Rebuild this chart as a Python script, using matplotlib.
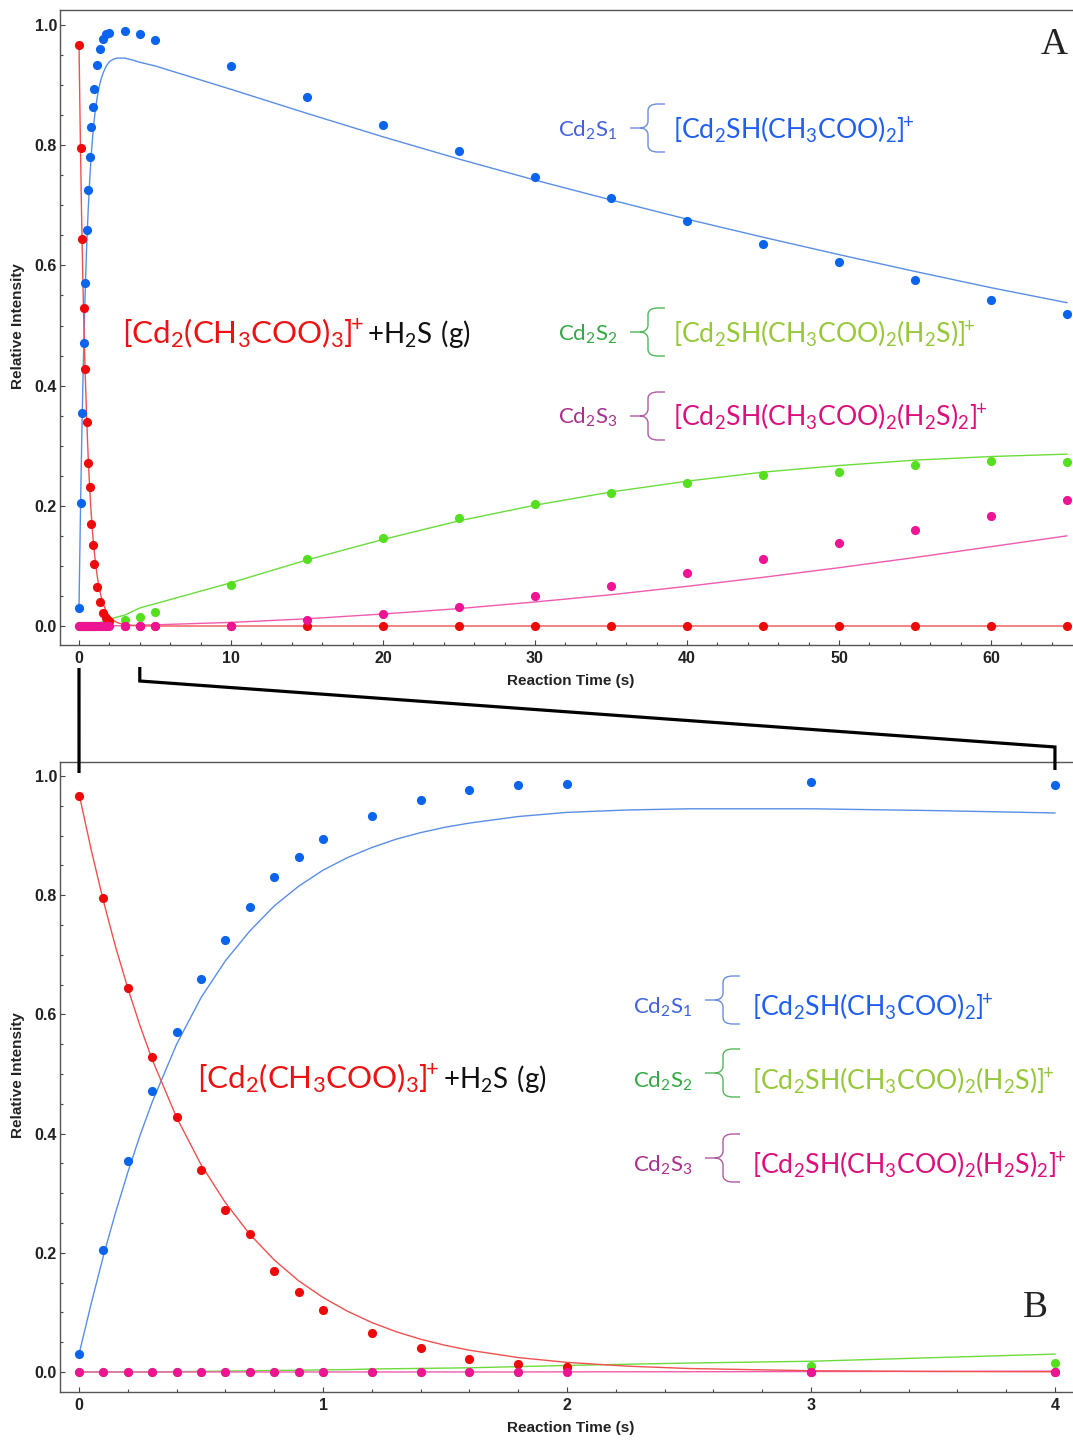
import matplotlib
matplotlib.use("Agg")
import matplotlib.pyplot as plt
import matplotlib.transforms as mtransforms
from matplotlib.path import Path
from matplotlib.patches import PathPatch
from matplotlib.lines import Line2D
from matplotlib.ticker import MultipleLocator, FormatStrFormatter

# ---------------- measured intensities ----------------
t_fast = [0, 0.1, 0.2, 0.3, 0.4, 0.5, 0.6, 0.7, 0.8, 0.9, 1.0, 1.2, 1.4, 1.6, 1.8, 2.0, 3, 4]
t_slow = [5, 10, 15, 20, 25, 30, 35, 40, 45, 50, 55, 60, 65]

reactant_fast = [0.966, 0.795, 0.644, 0.529, 0.428, 0.339, 0.272, 0.231, 0.169, 0.134,
                 0.104, 0.065, 0.040, 0.022, 0.013, 0.008, 0.0, 0.0]
reactant_slow = [0.0] * 13

s1_fast = [0.030, 0.205, 0.354, 0.471, 0.570, 0.659, 0.725, 0.780, 0.830, 0.864,
           0.894, 0.933, 0.960, 0.977, 0.985, 0.987, 0.990, 0.985]
s1_slow = [0.975, 0.932, 0.880, 0.834, 0.790, 0.747, 0.712, 0.674, 0.636, 0.606,
           0.576, 0.542, 0.519]

s2_fast = [0.0] * 15 + [0.008, 0.010, 0.015]
s2_slow = [0.023, 0.068, 0.111, 0.146, 0.180, 0.203, 0.221, 0.238, 0.251, 0.256,
           0.268, 0.275, 0.273]

s3_fast = [0.0] * 18
s3_slow = [0.0, 0.0, 0.010, 0.020, 0.032, 0.050, 0.067, 0.088, 0.111, 0.138,
           0.160, 0.183, 0.210]

# ---------------- kinetic model curves ----------------
fit_t_fast = [0, 0.05, 0.1, 0.15, 0.2, 0.25, 0.3, 0.4, 0.5, 0.6, 0.7, 0.8, 0.9, 1.0,
              1.1, 1.2, 1.3, 1.4, 1.5, 1.6, 1.8, 2.0, 2.25, 2.5, 3.0, 3.5, 4.0]
fit_t_slow = [5, 10, 15, 20, 25, 30, 35, 40, 45, 50, 55, 60, 65]

reactant_fit_fast = [0.970, 0.876, 0.790, 0.713, 0.644, 0.581, 0.524, 0.427, 0.348, 0.284,
                     0.231, 0.188, 0.153, 0.125, 0.102, 0.083, 0.0675, 0.055, 0.0448,
                     0.0365, 0.0242, 0.0161, 0.0097, 0.0058, 0.0021, 0.0008, 0.0003]
reactant_fit_slow = [0.0] * 13

s1_fit_fast = [0.030, 0.115, 0.195, 0.268, 0.335, 0.397, 0.453, 0.550, 0.628, 0.690,
               0.740, 0.782, 0.815, 0.842, 0.863, 0.880, 0.894, 0.905, 0.914, 0.921,
               0.932, 0.939, 0.943, 0.945, 0.945, 0.942, 0.938]
s1_fit_slow = [0.932, 0.893, 0.853, 0.814, 0.777, 0.742, 0.709, 0.677, 0.647, 0.618,
               0.590, 0.563, 0.538]

s2_fit_fast = [0.0] * 7 + [0.0005, 0.001, 0.0015, 0.002, 0.0025, 0.003, 0.0035,
                           0.004, 0.005, 0.0055, 0.006, 0.0065, 0.007, 0.009, 0.011,
                           0.013, 0.015, 0.018, 0.024, 0.030]
s2_fit_slow = [0.037, 0.072, 0.110, 0.144, 0.175, 0.201, 0.223, 0.241, 0.256, 0.267,
               0.276, 0.282, 0.286]

s3_fit_fast = [0.0] * 21 + [0.0002, 0.0003, 0.0004, 0.0007, 0.001, 0.0014]
s3_fit_slow = [0.002, 0.006, 0.012, 0.020, 0.029, 0.040, 0.052, 0.066, 0.081, 0.097,
               0.114, 0.132, 0.150]

# ---------------- styling ----------------
W, H = 1073, 1441
DOT = {"reactant": "#ee0a0a", "s1": "#0a64ee", "s2": "#55e01e", "s3": "#ee1494"}
FIT = {"reactant": "#f05050", "s1": "#5a8ee6", "s2": "#6cdc3c", "s3": "#f05aae"}

fig = plt.figure(figsize=(W / 100, H / 100), dpi=100)
fig.patch.set_facecolor("white")


def px_ax(left, top, right, bottom):
    return [left / W, 1 - bottom / H, (right - left) / W, (bottom - top) / H]


axA = fig.add_axes(px_ax(60, 10, 1073, 645))
axB = fig.add_axes(px_ax(60, 762, 1073, 1392))

panels = [
    (axA, t_fast + t_slow, fit_t_fast + fit_t_slow,
     {"reactant": reactant_fast + reactant_slow, "s1": s1_fast + s1_slow,
      "s2": s2_fast + s2_slow, "s3": s3_fast + s3_slow},
     {"reactant": reactant_fit_fast + reactant_fit_slow, "s1": s1_fit_fast + s1_fit_slow,
      "s2": s2_fit_fast + s2_fit_slow, "s3": s3_fit_fast + s3_fit_slow}),
    (axB, t_fast, fit_t_fast,
     {"reactant": reactant_fast, "s1": s1_fast, "s2": s2_fast, "s3": s3_fast},
     {"reactant": reactant_fit_fast, "s1": s1_fit_fast, "s2": s2_fit_fast,
      "s3": s3_fit_fast}),
]

for ax, tt, tf, pts, fits in panels:
    for key in ["s2", "s3", "s1", "reactant"]:
        ax.plot(tf, fits[key], color=FIT[key], lw=1.0, zorder=2)
    for key in ["s1", "s2", "reactant", "s3"]:
        ax.plot(tt, pts[key], "o", color=DOT[key], ms=6.6, mec="none", zorder=3,
                clip_on=False)

axA.set_xlim(-1.25, 65.4)
axA.set_ylim(-0.0316, 1.025)
axA.xaxis.set_major_locator(MultipleLocator(10))
axA.xaxis.set_minor_locator(MultipleLocator(2))

axB.set_xlim(-0.078, 4.074)
axB.set_ylim(-0.0336, 1.0235)
axB.xaxis.set_major_locator(MultipleLocator(1))
axB.xaxis.set_minor_locator(MultipleLocator(0.2))

for ax in (axA, axB):
    ax.yaxis.set_major_locator(MultipleLocator(0.2))
    ax.yaxis.set_minor_locator(MultipleLocator(0.05))
    ax.yaxis.set_major_formatter(FormatStrFormatter("%.1f"))
    ax.spines["right"].set_visible(False)
    for s in ("left", "bottom", "top"):
        ax.spines[s].set_color("#555555")
        ax.spines[s].set_linewidth(1.0)
    ax.tick_params(which="both", direction="in", colors="#444444", width=0.8,
                   labelcolor="#222222", labelsize=11.5)
    ax.tick_params(which="major", length=3.8)
    ax.tick_params(which="minor", length=2.2)
    ax.tick_params(axis="x", which="major", pad=4.5)
    ax.tick_params(axis="y", which="major", pad=2.2)
    for lab in ax.get_xticklabels() + ax.get_yticklabels():
        lab.set_fontfamily("Liberation Sans")
        lab.set_fontweight("bold")
    ax.set_xlabel("Reaction Time (s)", family="Liberation Sans", weight="bold",
                  size=11, color="#222222")
    ax.set_ylabel("Relative Intensity", family="Liberation Sans", weight="bold",
                  size=11, color="#222222")
    ax.xaxis.set_label_coords(0.504, -0.046)
    ax.yaxis.set_label_coords(-0.035, 0.503)


def ftext(x, y, s, **kw):
    fig.text(x / W, 1 - y / H, s, **kw)


def brace(x_cusp, y_mid, color, half=24):
    # dash plus an opening curly brace, sized in pixels
    h = half
    verts = [(-10, 0), (0, 0),
             (0, 0), (5, 0), (8, 3), (8, 7),
             (8, h - 7),
             (8, h - 2), (12, h), (18, h),
             (25, h),
             (0, 0), (5, 0), (8, -3), (8, -7),
             (8, -h + 7),
             (8, -h + 2), (12, -h), (18, -h),
             (25, -h)]
    codes = [Path.MOVETO, Path.LINETO,
             Path.MOVETO, Path.CURVE4, Path.CURVE4, Path.CURVE4,
             Path.LINETO,
             Path.CURVE4, Path.CURVE4, Path.CURVE4,
             Path.LINETO,
             Path.MOVETO, Path.CURVE4, Path.CURVE4, Path.CURVE4,
             Path.LINETO,
             Path.CURVE4, Path.CURVE4, Path.CURVE4,
             Path.LINETO]
    tr = (mtransforms.Affine2D().translate(x_cusp, H - y_mid).scale(1 / fig.dpi)
          + fig.dpi_scale_trans)
    fig.add_artist(PathPatch(Path(verts, codes), fc="none", ec=color, lw=1.0,
                             transform=tr))


LBL = dict(family="Lato")
species_rows = [
    (r"$\mathregular{Cd_2S_1}$", r"$\mathregular{[Cd_2SH(CH_3COO)_2]^{\!\!+}}$",
     "#3f63dc", "#6f8ce0", "#1f5ff0"),
    (r"$\mathregular{Cd_2S_2}$", r"$\mathregular{[Cd_2SH(CH_3COO)_2(H_2S)]^{\!\!+}}$",
     "#35a845", "#52b85a", "#96c83a"),
    (r"$\mathregular{Cd_2S_3}$", r"$\mathregular{[Cd_2SH(CH_3COO)_2(H_2S)_2]^{\!\!+}}$",
     "#a8308f", "#b05aa0", "#dc0f7c"),
]

# (label x, formula x, cusp x, row baselines, brace centres)
layouts = [
    (558, 673, 640, [137, 341, 424], [128, 332, 416]),
    (633, 752, 715, [1014, 1088, 1172], [1000, 1073, 1158]),
]
for lx, fx, cx, bases, mids in layouts:
    for (short, formula, c1, c2, c3), yb, ym in zip(species_rows, bases, mids):
        ftext(lx, yb, short, color=c1, size=16, va="baseline", ha="left", **LBL)
        brace(cx, ym, c2)
        ftext(fx, yb + 2, formula, color=c3, size=19.2, va="baseline", ha="left",
              **LBL)

# reactant label
for x0, x1, yb in [(122, 367, 343), (197, 443, 1088)]:
    ftext(x0, yb, r"$\mathregular{[Cd_2(CH_3COO)_3]^{\!\!+}}$", color="#ee1111",
          size=22.5, family="Lato", va="baseline", ha="left")
    ftext(x1, yb, r"$\mathregular{+H_2S\ (g)}$", color="#111111", size=20,
          family="Lato", va="baseline", ha="left")

# panel letters
ftext(1054, 45, "A", family="Liberation Serif", size=27, color="#222222",
      ha="center", va="center")
ftext(1035, 1308, "B", family="Liberation Serif", size=27, color="#222222",
      ha="center", va="center")

# zoom connectors from the 0-4 s window of A to panel B
fig.canvas.draw()
xa0 = axA.transData.transform((0, 0))[0]
xa4 = axA.transData.transform((4, 0))[0]
xb0 = axB.transData.transform((0, 0))[0]
xb4 = axB.transData.transform((4, 0))[0]
con = dict(color="black", lw=2.3, solid_capstyle="butt", solid_joinstyle="miter")
fig.add_artist(Line2D([xa0 / W, xb0 / W], [1 - 668 / H, 1 - 773 / H], **con))
fig.add_artist(Line2D([xa4 / W, xa4 / W, xb4 / W, xb4 / W],
                      [1 - 667 / H, 1 - 681 / H, 1 - 747 / H, 1 - 770 / H], **con))

fig.savefig("out.png", dpi=100, facecolor="white")
